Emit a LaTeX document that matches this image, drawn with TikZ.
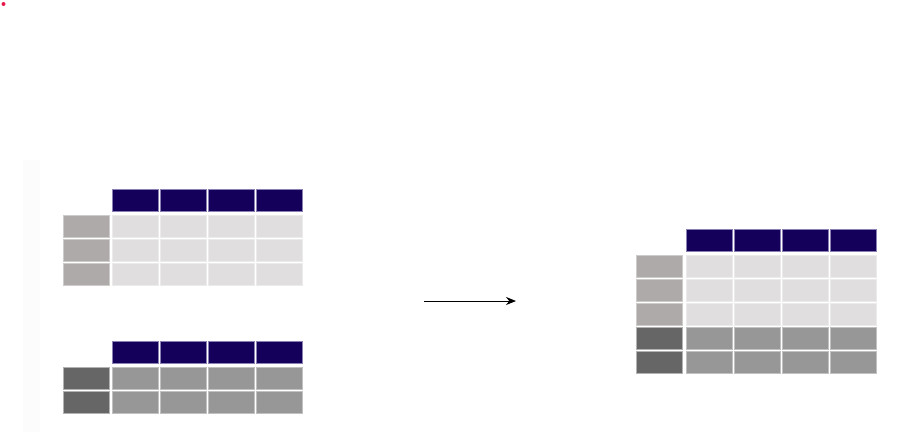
\documentclass[tikz,border=0pt]{standalone}
\usepackage{tikz}
\usepackage{xcolor}
\usetikzlibrary{arrows.meta}

\definecolor{hdrfill}{HTML}{14005A}
\definecolor{hdrline}{HTML}{8A80B4}
\definecolor{lightcell}{HTML}{E0DEDF}
\definecolor{lightrow}{HTML}{ADAAA9}
\definecolor{darkcell}{HTML}{979797}
\definecolor{darkrow}{HTML}{666666}
\definecolor{dotred}{HTML}{E8174C}

\tikzset{
  box/.style={rectangle, inner sep=0pt, minimum width=46pt, minimum height=22pt, line width=0.7pt},
  hdr/.style={box, fill=hdrfill, draw=hdrline},
  celllt/.style={box, fill=lightcell, draw=lightcell!60!white},
  rowlt/.style={box, fill=lightrow, draw=lightrow!60!white},
  celldk/.style={box, fill=darkcell, draw=darkcell!60!white},
  rowdk/.style={box, fill=darkrow, draw=darkrow!50!white}
}

\begin{document}
\begin{tikzpicture}[x=1pt, y=-1pt]
  \useasboundingbox (0,0) rectangle (909,432);

  % corner mark and faint strip
  \fill[dotred] (3.5,4) circle (2pt);
  \fill[black!1] (23,160) rectangle (40,432);

  % first table
  \foreach \c in {1,...,4}
    \node[hdr] (a-h\c) at ({87.5+48*\c},200) {};
  \foreach \r in {1,...,3} {
    \node[rowlt] (a-r\r) at (86,{202.5+24*\r}) {};
    \foreach \c in {1,...,4}
      \node[celllt] (a-\r-\c) at ({87.5+48*\c},{202.5+24*\r}) {};
  }

  % second table
  \foreach \c in {1,...,4}
    \node[hdr] (b-h\c) at ({87.5+48*\c},352) {};
  \foreach \r in {1,2} {
    \node[rowdk] (b-r\r) at (86,{354+24*\r}) {};
    \foreach \c in {1,...,4}
      \node[celldk] (b-\r-\c) at ({87.5+48*\c},{354+24*\r}) {};
  }

  % arrow
  \coordinate (from) at (424,301);
  \coordinate (to) at (516,301);
  \draw[line width=1pt, -{Stealth[length=10pt, width=8pt]}] (from) -- (to);

  % result table
  \foreach \c in {1,...,4}
    \node[hdr] (c-h\c) at ({661+48*\c},240.5) {};
  \foreach \r in {1,...,3} {
    \node[rowlt] (c-r\r) at (659.5,{242+24*\r}) {};
    \foreach \c in {1,...,4}
      \node[celllt] (c-\r-\c) at ({661+48*\c},{242+24*\r}) {};
  }
  \foreach \r in {4,5} {
    \node[rowdk] (c-r\r) at (659.5,{242+24*\r}) {};
    \foreach \c in {1,...,4}
      \node[celldk] (c-\r-\c) at ({661+48*\c},{242+24*\r}) {};
  }

\end{tikzpicture}
\end{document}
